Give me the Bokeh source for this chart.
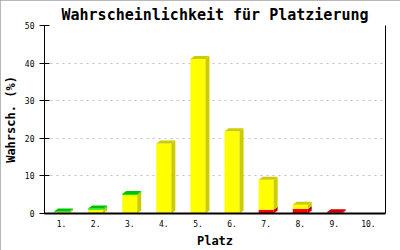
from bokeh.plotting import figure
from bokeh.models import Range1d, FixedTicker, LinearAxis
from bokeh.embed import file_html
from bokeh.resources import INLINE

# ---- data ----
places = ["1.", "2.", "3.", "4.", "5.", "6.", "7.", "8.", "9.", "10."]
red_vals = [0, 0, 0, 0, 0, 0, 1.0, 1.2, 0.3, 0]
yellow_vals = [0.3, 1.0, 4.9, 18.6, 41.1, 21.9, 8.0, 1.1, 0, 0]
green_vals = [0.2, 0.3, 0.3, 0, 0, 0, 0, 0, 0, 0]
y_ticks = [0, 10, 20, 30, 40, 50]

title_text = "Wahrscheinlichkeit für Platzierung"
x_label = "Platz"
y_label = "Wahrsch. (%)"

# ---- style ----
series = [
    (red_vals, "#ff0000", "#cc0000"),
    (yellow_vals, "#ffff00", "#cccc00"),
    (green_vals, "#00ee00", "#00c000"),
]
BAR_W = 0.44      # category units
DX = 0.117        # 3D depth, category units (~4 px)
DY = 0.8          # 3D depth, value units (~3 px)
MONO = "DejaVu Sans Mono"

p = figure(width=400, height=250, output_backend="svg", toolbar_location=None,
           x_range=Range1d(0.5, len(places) + 0.5), y_range=Range1d(y_ticks[0], y_ticks[-1]),
           min_border_left=43, min_border_right=15, min_border_top=25, min_border_bottom=37)
p.background_fill_color = "white"
p.border_fill_color = "white"
p.outline_line_color = None
p.styles = {"outline": "2px solid #a0a0a0", "outline-offset": "-2px"}

# ---- 3D stacked bars ----
xs_all, ys_all, colors = [], [], []
for i, name in enumerate(places):
    x = i + 1
    bottom = 0.0
    top_dark = None
    for vals, front, dark in series:
        v = vals[i]
        if v <= 0:
            continue
        top = bottom + v
        xl, xr = x - BAR_W / 2, x + BAR_W / 2
        xs_all.append([xl, xr, xr, xl]); ys_all.append([bottom, bottom, top, top]); colors.append(front)
        xs_all.append([xr, xr + DX, xr + DX, xr]); ys_all.append([bottom, bottom + DY, top + DY, top]); colors.append(dark)
        top_dark = dark
        bottom = top
    if top_dark is not None:
        xl, xr = x - BAR_W / 2, x + BAR_W / 2
        xs_all.append([xl, xr, xr + DX, xl + DX]); ys_all.append([bottom, bottom, bottom + DY, bottom + DY]); colors.append(top_dark)

p.patches(xs=xs_all, ys=ys_all, fill_color=colors, line_color=None)

# ---- title ----
p.title.text = title_text
p.title.align = "center"
p.title.text_font = MONO
p.title.text_font_style = "bold"
p.title.text_font_size = "15px"
p.title.standoff = 3
p.title.text_color = "black"

# ---- axes ----
xa = p.xaxis[0]
xa.ticker = FixedTicker(ticks=list(range(1, len(places) + 1)))
xa.major_label_overrides = {i + 1: s for i, s in enumerate(places)}
xa.major_tick_in = 0
xa.major_tick_out = 0
xa.minor_tick_line_color = None
xa.major_label_text_font = MONO
xa.major_label_text_font_size = "8px"
xa.major_label_text_color = "black"
xa.major_label_standoff = 6
xa.axis_label = x_label
xa.axis_label_text_font = MONO
xa.axis_label_text_font_style = "bold"
xa.axis_label_text_font_size = "12px"
xa.axis_label_text_color = "black"
xa.axis_label_standoff = 4
xa.axis_line_width = 2
xa.axis_line_color = "black"

ya = p.yaxis[0]
ya.ticker = FixedTicker(ticks=y_ticks)
ya.major_tick_in = 5
ya.major_tick_out = 5
ya.minor_tick_line_color = None
ya.major_label_text_font = MONO
ya.major_label_text_font_size = "8px"
ya.major_label_text_color = "black"
ya.major_label_standoff = 5
ya.axis_label = y_label
ya.axis_label_text_font = MONO
ya.axis_label_text_font_style = "bold"
ya.axis_label_text_font_size = "12px"
ya.axis_label_text_color = "black"
ya.axis_label_standoff = 4
ya.axis_line_color = "black"
ya.major_tick_line_color = "black"

ra = LinearAxis(ticker=FixedTicker(ticks=[]), major_tick_in=0, major_tick_out=0,
                minor_tick_line_color=None, major_label_text_font_size="0px",
                axis_line_color="black")
p.add_layout(ra, "right")

p.xgrid.visible = False
p.ygrid.ticker = FixedTicker(ticks=y_ticks)
p.ygrid.grid_line_color = "#c0c0c0"
p.ygrid.grid_line_dash = "2 4"

open("out.html", "w").write(file_html(p, INLINE))
